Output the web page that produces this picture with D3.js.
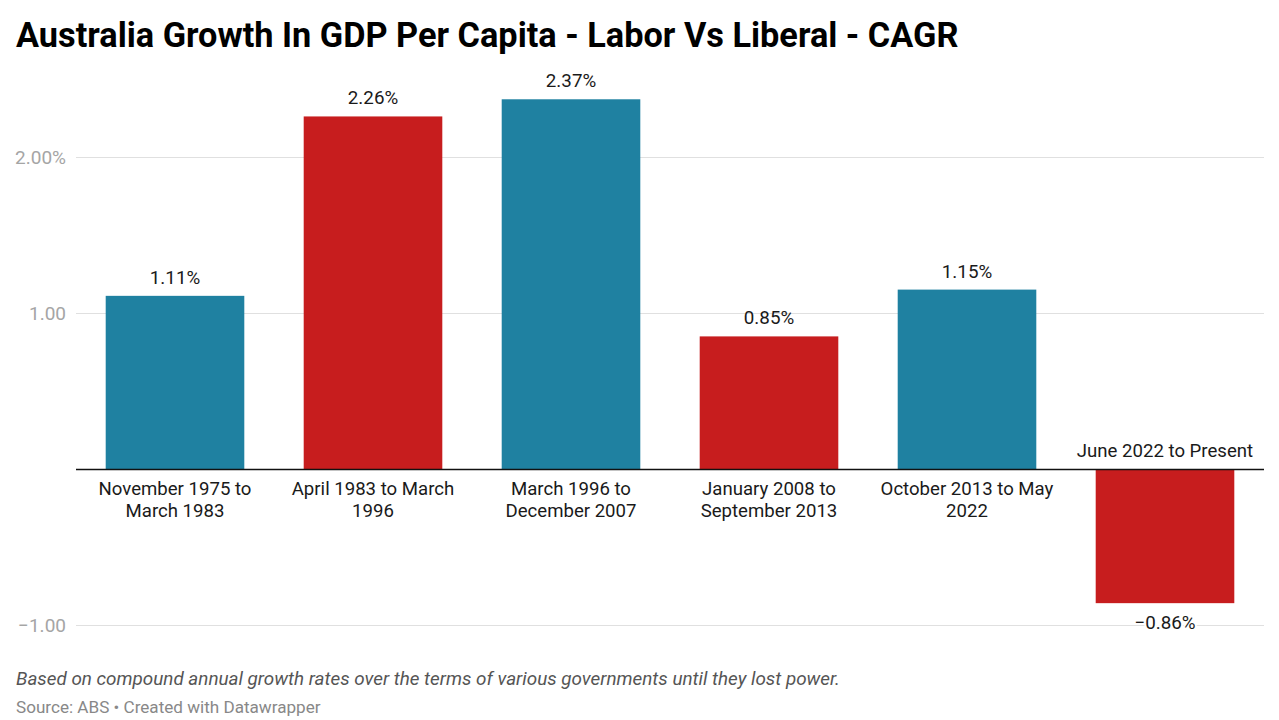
<!DOCTYPE html>
<html><head><meta charset="utf-8">
<script src="https://cdn.jsdelivr.net/npm/d3@7"></script>
<style>
body{margin:0;background:#fff;font-family:Roboto,"Noto Sans",sans-serif;}
</style></head>
<body>
<svg id="chart" width="1279" height="720"></svg>
<script>
const categories = [
  ["November 1975 to","March 1983"],
  ["April 1983 to March","1996"],
  ["March 1996 to","December 2007"],
  ["January 2008 to","September 2013"],
  ["October 2013 to May","2022"],
  ["June 2022 to Present"]
];
const values = [1.11, 2.26, 2.37, 0.85, 1.15, -0.86];
const valueLabels = ["1.11%","2.26%","2.37%","0.85%","1.15%","\u22120.86%"];
const parties = ["Liberal","Labor","Liberal","Labor","Liberal","Labor"];
const tickValues = [-1, 1, 2];
const tickLabels = ["\u22121.00","1.00","2.00%"];
const partyColors = {Liberal:"#1f81a1", Labor:"#c71d1e"};

const svg = d3.select("#chart");
const x = d3.scaleBand().domain(d3.range(categories.length)).range([76,1264]).paddingInner(0.3).paddingOuter(0.15);
const y = d3.scaleLinear().domain([-1, 2]).range([625, 157]);

svg.append("text").attr("x",16).attr("y",47).attr("font-size",34.3).attr("font-weight",700)
  .attr("fill","#000").text("Australia Growth In GDP Per Capita - Labor Vs Liberal - CAGR");

// gridlines
const grid = svg.append("g");
grid.selectAll("line").data(tickValues).join("line")
  .attr("x1",76).attr("x2",1264).attr("y1",d=>y(d)+0.5).attr("y2",d=>y(d)+0.5)
  .attr("stroke","#e0e0e0").attr("stroke-width",1);
grid.selectAll("text").data(tickValues).join("text")
  .attr("x",66).attr("y",d=>y(d)).attr("dy","0.35em").attr("text-anchor","end")
  .attr("font-size",19).attr("fill","#a5a5a5").text((d,i)=>tickLabels[i]);

// bars
svg.append("g").selectAll("rect").data(values).join("rect")
  .attr("x",(d,i)=>x(i)).attr("width",x.bandwidth())
  .attr("y",d=>y(Math.max(0,d))).attr("height",d=>Math.abs(y(d)-y(0)))
  .attr("fill",(d,i)=>partyColors[parties[i]]);

// zero line
svg.append("line").attr("x1",76).attr("x2",1264).attr("y1",y(0)+0.5).attr("y2",y(0)+0.5)
  .attr("stroke","#111").attr("stroke-width",1.3);

// value labels
svg.append("g").selectAll("text").data(values).join("text")
  .attr("x",(d,i)=>x(i)+x.bandwidth()/2)
  .attr("y",d=> d>=0 ? y(d)-12 : y(d)+26)
  .attr("text-anchor","middle").attr("font-size",18.8).attr("fill","#1a1a1a")
  .attr("stroke","#fff").attr("stroke-width",d=>d<0?4:0).attr("paint-order","stroke")
  .text((d,i)=>valueLabels[i]);

// category labels
const cg = svg.append("g");
categories.forEach((lines,i)=>{
  const neg = values[i] < 0;
  const t = cg.append("text").attr("text-anchor","middle").attr("font-size",18.6).attr("fill","#1a1a1a");
  lines.forEach((ln,j)=>{
    const yy = neg ? y(0) - 12 - (lines.length-1-j)*22 : y(0) + 26 + j*22;
    t.append("tspan").attr("x",x(i)+x.bandwidth()/2).attr("y",yy).text(ln);
  });
});

// footer
svg.append("text").attr("x",16).attr("y",685).attr("font-size",18.85).attr("font-style","italic")
  .attr("fill","#555").text("Based on compound annual growth rates over the terms of various governments until they lost power.");
svg.append("text").attr("x",16).attr("y",713).attr("font-size",17.1)
  .attr("fill","#888").text("Source: ABS \u2022 Created with Datawrapper");
</script>
</body></html>
